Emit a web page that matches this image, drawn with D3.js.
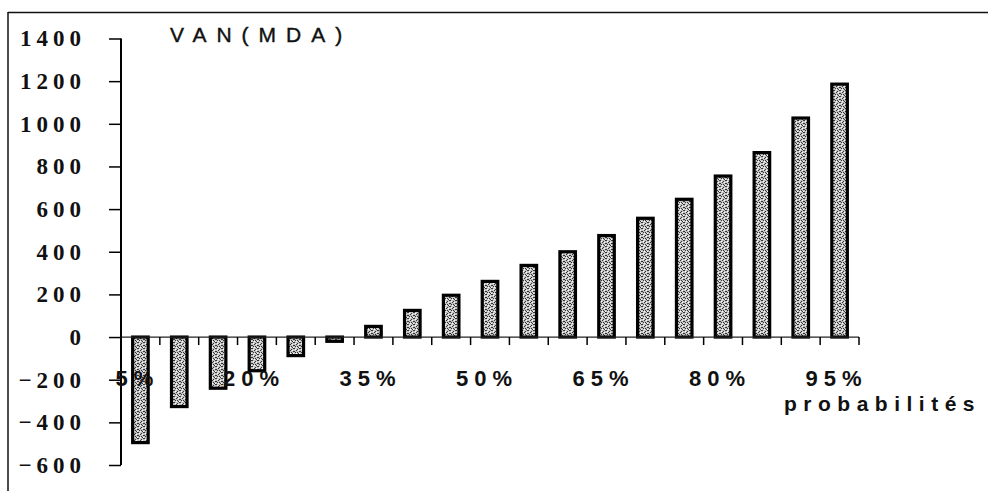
<!DOCTYPE html>
<html>
<head>
<meta charset="utf-8">
<script src="https://cdn.jsdelivr.net/npm/d3@7"></script>
<style>
  html, body { margin: 0; padding: 0; background: #fff; }
  svg { display: block; }
</style>
</head>
<body>
<svg id="chart" width="988" height="491"></svg>
<script>
// VAN (MDA) by probability level
const probabilities = ["5%","10%","15%","20%","25%","30%","35%","40%","45%","50%",
                       "55%","60%","65%","70%","75%","80%","85%","90%","95%"];
const vanValues = [-495, -326, -240, -158, -87, -20, 50, 125, 196, 261,
                   336, 400, 476, 557, 646, 755, 865, 1027, 1186];
const yTickValues = [-600, -400, -200, 0, 200, 400, 600, 800, 1000, 1200, 1400];
const xLabelShown = ["5%","20%","35%","50%","65%","80%","95%"];

const svg = d3.select("#chart");

// frame lines (top and left)
svg.append("line").attr("x1", 8).attr("x2", 988).attr("y1", 12.5).attr("y2", 12.5)
  .attr("stroke", "#111").attr("stroke-width", 1.5);
svg.append("line").attr("x1", 8).attr("x2", 8).attr("y1", 12).attr("y2", 491)
  .attr("stroke", "#111").attr("stroke-width", 1.5);

const x = d3.scaleBand().domain(probabilities).range([121, 859])
  .paddingInner(0.6).paddingOuter(0.3);
const y = d3.scaleLinear().domain([-600, 1400]).range([465, 38.5]);

// stippled grey fill for the bars
const defs = svg.append("defs");
const pat = defs.append("pattern").attr("id", "stipple")
  .attr("patternUnits", "userSpaceOnUse").attr("width", 6).attr("height", 6);
pat.append("rect").attr("width", 6).attr("height", 6).attr("fill", "#c4c4c4");
const dots = [[0,0],[3,1],[5,3],[1,4],[4,5],[2,2],[5,0],[0,3],[3,4]];
dots.forEach(([dx, dy]) => pat.append("rect").attr("x", dx).attr("y", dy)
  .attr("width", 1).attr("height", 1).attr("fill", "#333"));
const lights = [[1,1],[4,2],[2,5],[5,5]];
lights.forEach(([dx, dy]) => pat.append("rect").attr("x", dx).attr("y", dy)
  .attr("width", 1).attr("height", 1).attr("fill", "#fff"));

// bars
svg.append("g").selectAll("rect").data(vanValues).join("rect")
  .attr("x", (d, i) => x(probabilities[i]))
  .attr("width", x.bandwidth())
  .attr("y", d => y(Math.max(0, d)))
  .attr("height", d => Math.abs(y(d) - y(0)))
  .attr("fill", "url(#stipple)")
  .attr("stroke", "#000").attr("stroke-width", 3.2);

// x axis line at zero and ticks at category boundaries
svg.append("line").attr("x1", 121).attr("x2", 859).attr("y1", y(0)).attr("y2", y(0))
  .attr("stroke", "#222").attr("stroke-width", 1.2);
const step = x.step();
const bounds = d3.range(1, probabilities.length + 1).map(i => x.range()[0] + i * step);
svg.append("g").selectAll("line").data(bounds).join("line")
  .attr("x1", d => d).attr("x2", d => d)
  .attr("y1", y(0)).attr("y2", y(0) + 8)
  .attr("stroke", "#000").attr("stroke-width", 1.5);

// y axis
const yAxis = d3.axisLeft(y).tickValues(yTickValues).tickSize(12).tickPadding(28)
  .tickFormat(d3.format("d"));
const gy = svg.append("g").attr("transform", "translate(121,0)").call(yAxis);
gy.select(".domain").attr("stroke", "#000").attr("stroke-width", 2)
  .attr("d", `M0,${y(1400)}V${y(-600)}`);
gy.selectAll(".tick line").attr("stroke", "#000").attr("stroke-width", 1.5);
gy.selectAll(".tick text")
  .style("font-family", "'Liberation Serif', 'Times New Roman', serif")
  .style("font-weight", "bold").style("font-size", "23px")
  .style("letter-spacing", "5px").attr("fill", "#111")
  .attr("dx", 5);

// x category labels (every third)
svg.append("g").selectAll("text").data(xLabelShown).join("text")
  .attr("x", d => x(d) + x.bandwidth() / 2 - 3)
  .attr("y", 386)
  .attr("text-anchor", "middle")
  .style("font-family", "'Liberation Sans', Arial, sans-serif")
  .style("font-weight", "bold").style("font-size", "22px")
  .style("letter-spacing", "6px").attr("fill", "#111")
  .text(d => d);

// axis titles
svg.append("text").attr("x", 170).attr("y", 42)
  .style("font-family", "'Liberation Sans', Arial, sans-serif")
  .style("font-size", "21px").style("letter-spacing", "10px").attr("fill", "#111")
  .style("stroke", "#111").style("stroke-width", "0.4px")
  .text("VAN(MDA)");
svg.append("text").attr("x", 784).attr("y", 411)
  .style("font-family", "'Liberation Sans', Arial, sans-serif")
  .style("font-weight", "bold").style("font-size", "21px")
  .style("letter-spacing", "6.5px").attr("fill", "#111")
  .text("probabilités");
</script>
</body>
</html>
